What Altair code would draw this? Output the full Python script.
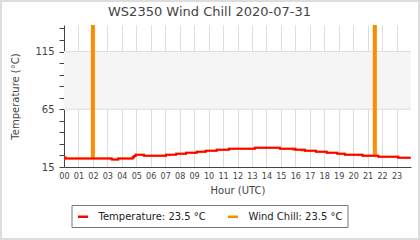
import altair as alt
import pandas as pd

# Temperature series (hour of day, °C)
temp_hours = [0.0, 0.1, 3.3, 3.75, 4.75, 4.85, 4.95, 5.53, 7.05, 7.75, 8.44, 9.18, 9.8,
              10.56, 11.4, 13.2, 14.94, 16.0, 16.67, 17.43, 18.17, 18.9, 19.43, 20.65,
              21.74, 23.12, 23.98]
temp_values = [23.3, 22.4, 21.4, 22.4, 23.4, 24.5, 25.6, 24.8, 25.6, 26.5, 27.4, 28.2, 29.1,
               29.9, 30.8, 31.7, 30.8, 29.9, 29.1, 28.2, 27.4, 26.5, 25.6, 24.8,
               23.9, 23.0, 23.0]

# Wind chill series (hour of day, °C)
wc_hours = [0.0, 0.1, 1.93, 2.07, 3.3, 3.75, 4.75, 4.85, 4.95, 5.53, 7.05, 7.75, 8.44, 9.18,
            9.8, 10.56, 11.4, 13.2, 14.94, 15.82, 15.9, 16.0, 16.45, 16.55, 16.67, 17.43,
            18.17, 18.9, 19.43, 20.65, 21.43, 21.57, 21.74, 23.12, 23.98]
wc_values = [23.3, 22.4, 300, 22.4, 21.4, 22.4, 23.4, 24.5, 25.6, 24.8, 25.6, 26.5, 27.4, 28.2,
             29.1, 29.9, 30.8, 31.7, 30.8, 30.0, 30.8, 29.9, 29.3, 29.9, 29.1, 28.2,
             27.4, 26.5, 25.6, 24.8, 300, 24.8, 23.9, 23.0, 23.0]

series_names = ["Temperature: 23.5 °C", "Wind Chill: 23.5 °C"]
series_colors = ["#ff0000", "#ff8c00"]

band = [65, 115]
hour_ticks = list(range(24))
y_ticks = list(range(15, 136, 10))
y_domain = [15, 138]

temp_df = pd.DataFrame({"hour": temp_hours, "value": temp_values, "series": series_names[0]})
wc_df = pd.DataFrame({"hour": wc_hours, "value": wc_values, "series": series_names[1]})
band_df = pd.DataFrame({"hour": [0], "hour2": [24], "value": [band[0]], "value2": [band[1]]})
rule_df = pd.DataFrame({"value": band})

xscale = alt.Scale(domain=[0, 24], nice=False, zero=False)
yscale = alt.Scale(domain=y_domain, nice=False, zero=False)
cscale = alt.Scale(domain=series_names, range=series_colors)

x_axis = alt.Axis(
    values=hour_ticks,
    labelExpr="(datum.value < 10 ? '0' : '') + datum.value",
    ticks=False, labelPadding=4, grid=True, gridColor="#dddddd", gridWidth=1,
    domainColor="#444444", labelFont="DejaVu Sans Condensed", labelFontSize=9,
    labelColor="#444444", title="Hour (UTC)", titleFontSize=10, titleColor="#444444",
    titleFontWeight="normal", titlePadding=5, labelFlush=False, labelOverlap=False,
)
y_axis = alt.Axis(
    values=y_ticks,
    labelExpr="(datum.value == 15 || datum.value == 65 || datum.value == 115) ? datum.label : ''",
    tickSize=5, tickColor="#444444", domainColor="#444444", grid=False,
    labelFontSize=10, labelColor="#444444", labelPadding=5, labelOverlap=False,
    title="Temperature (°C)", titleFontSize=10, titleColor="#444444",
    titleFontWeight="normal", titlePadding=14,
)

X = alt.X("hour:Q", scale=xscale, axis=x_axis)
Y = alt.Y("value:Q", scale=yscale, axis=y_axis)

frame = alt.Chart(pd.DataFrame({"a": [0]})).mark_rect(
    fill=None, stroke="#dddddd", strokeWidth=2, clip=False
).encode(x=alt.value(-63), x2=alt.value(355), y=alt.value(-24), y2=alt.value(214))

band_rect = alt.Chart(band_df).mark_rect(color="#f5f5f5").encode(
    x=X, x2="hour2:Q", y=Y, y2="value2:Q",
)
band_rules = alt.Chart(rule_df).mark_rule(color="#dddddd", strokeWidth=1).encode(y=Y)

legend = alt.Legend(
    title=None, orient="none", legendX=7.5, legendY=180, direction="horizontal",
    columns=2, strokeColor="#777777", padding=5, columnPadding=16,
    symbolType="stroke", symbolSize=100, symbolStrokeWidth=2.5, labelOffset=9,
    labelFontSize=10, labelColor="#222222", cornerRadius=0,
)

wc_line = alt.Chart(wc_df).mark_line(interpolate="step-after", strokeWidth=2, clip=True).encode(
    x=X, y=Y, color=alt.Color("series:N", scale=cscale, legend=legend),
)
temp_line = alt.Chart(temp_df).mark_line(interpolate="step-after", strokeWidth=2, clip=True).encode(
    x=X, y=Y, color=alt.Color("series:N", scale=cscale, legend=legend),
)

chart = alt.layer(band_rect, band_rules, wc_line, temp_line, frame).properties(
    width=347, height=142,
    title=alt.TitleParams("WS2350 Wind Chill 2020-07-31", fontSize=13, color="#444444",
                          fontWeight="normal", anchor="middle", dx=-28, offset=-29,
                          baseline="alphabetic"),
    autosize=alt.AutoSizeParams(type="none"),
    padding={"left": 64, "top": 25, "right": 9, "bottom": 73},
).configure(font="DejaVu Sans").configure_view(strokeWidth=0)

chart.save("out.html", embed_options={"renderer": "svg", "actions": False})
